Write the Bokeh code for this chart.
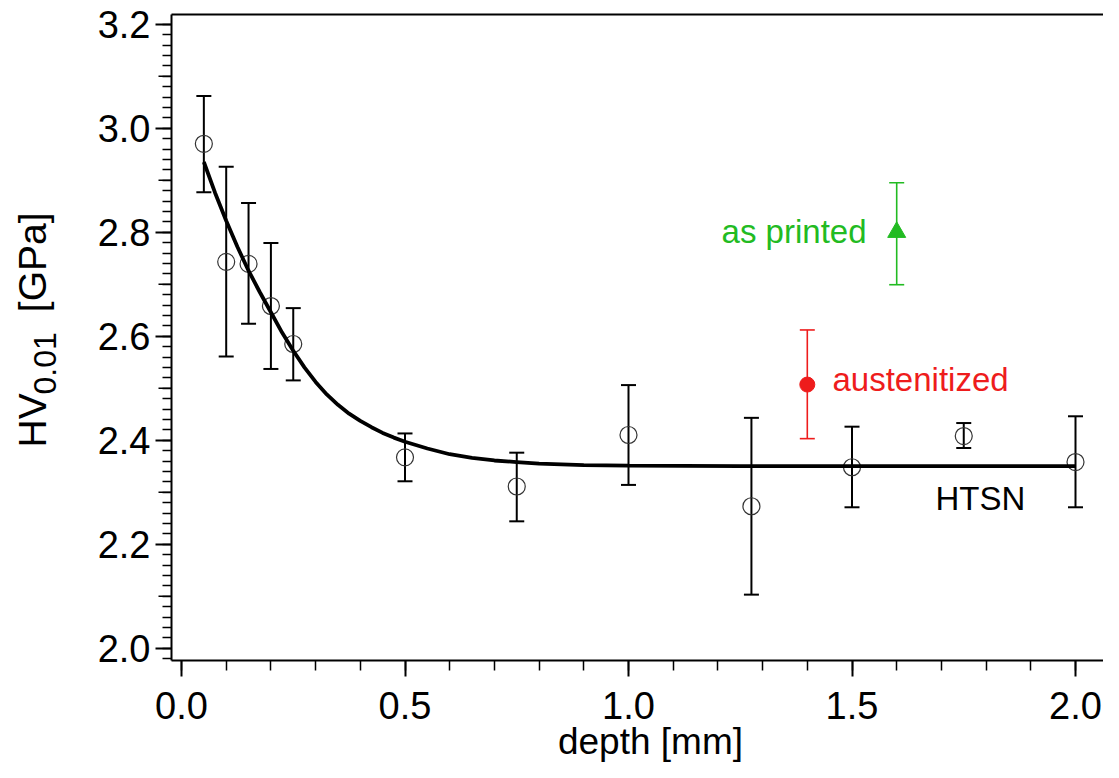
import math
from bokeh.plotting import figure
from bokeh.models import (Range1d, Whisker, ColumnDataSource, TeeHead, Label,
                          LinearAxis, FixedTicker, SingleIntervalTicker,
                          PrintfTickFormatter)
from bokeh.embed import file_html
from bokeh.resources import INLINE

# ---------------- data ----------------
depth = [0.05, 0.10, 0.15, 0.20, 0.25, 0.50, 0.75, 1.00, 1.275, 1.50, 1.75, 2.00]
hv = [2.970, 2.743, 2.739, 2.658, 2.585, 2.367, 2.311, 2.410, 2.273, 2.348, 2.408, 2.358]
hv_upper = [3.062, 2.926, 2.856, 2.779, 2.654, 2.413, 2.376, 2.506, 2.443, 2.426, 2.433, 2.446]
hv_lower = [2.877, 2.561, 2.624, 2.537, 2.515, 2.321, 2.244, 2.314, 2.103, 2.271, 2.385, 2.271]

fit_depth = [0.05, 0.075, 0.10, 0.125, 0.15, 0.175, 0.20, 0.225, 0.25, 0.275, 0.30,
             0.325, 0.35, 0.375, 0.40, 0.425, 0.45, 0.475, 0.50, 0.55, 0.60, 0.65,
             0.70, 0.75, 0.80, 0.90, 1.00, 1.25, 1.50, 1.75, 2.00]
fit_hv = [2.935, 2.876, 2.822, 2.772, 2.726, 2.685, 2.646, 2.607, 2.572, 2.540, 2.512,
          2.488, 2.468, 2.451, 2.437, 2.425, 2.414, 2.405, 2.397, 2.384, 2.373, 2.366,
          2.361, 2.358, 2.355, 2.352, 2.351, 2.350, 2.350, 2.350, 2.350]

printed_depth = [1.60]
printed_hv = [2.800]
printed_upper = [2.895]
printed_lower = [2.699]

aust_depth = [1.40]
aust_hv = [2.507]
aust_upper = [2.612]
aust_lower = [2.403]

y_mid_ticks = [2.1, 2.3, 2.5, 2.7, 2.9, 3.1]

GREEN = "#22bb22"
RED = "#ee1c1c"
FONT = "Liberation Sans"

# ---------------- geometry (pixel <-> data mapping of the frame) ----------------
W, H = 1103, 762
X0_PX, X_PER = 181.0, 447.0      # pixel of depth 0, pixels per mm
Y3_PX, Y_PER = 127.7, 520.0      # pixel of 3.0 GPa, pixels per GPa


def dx(px):
    return (px - X0_PX) / X_PER


def dy(py):
    return 3.0 - (py - Y3_PX) / Y_PER


x_lo, x_hi = dx(0), dx(W)
y_lo, y_hi = dy(H), dy(0)
ax_left, ax_bottom, ax_top = dx(171), dy(660), dy(14)

p = figure(width=W, height=H, output_backend="svg", toolbar_location=None,
           x_range=Range1d(x_lo, x_hi), y_range=Range1d(y_lo, y_hi),
           min_border=0)
p.min_border_left = 0
p.min_border_right = 0
p.min_border_top = 0
p.min_border_bottom = 0
p.xgrid.visible = False
p.ygrid.visible = False
p.outline_line_color = None
p.background_fill_color = "white"
p.border_fill_color = "white"

# x axis
xa = p.xaxis[0]
xa.fixed_location = ax_bottom
xa.bounds = (ax_left, x_hi)
xa.ticker = SingleIntervalTicker(interval=0.5, num_minor_ticks=5)
xa.formatter = PrintfTickFormatter(format="%.1f")
xa.axis_line_width = 2
xa.major_tick_line_width = 2
xa.minor_tick_line_width = 1.5
xa.major_tick_in = 0
xa.major_tick_out = 16
xa.minor_tick_in = 0
xa.minor_tick_out = 10
xa.major_label_standoff = 15
xa.major_label_text_font = FONT
xa.major_label_text_font_size = "38px"
xa.major_label_text_color = "black"

# y axis
ya = p.yaxis[0]
ya.fixed_location = ax_left
ya.bounds = (ax_bottom, ax_top)
ya.ticker = SingleIntervalTicker(interval=0.2, num_minor_ticks=10)
ya.formatter = PrintfTickFormatter(format="%.1f")
ya.axis_line_width = 2
ya.major_tick_line_width = 2
ya.minor_tick_line_width = 1.5
ya.major_tick_in = 0
ya.major_tick_out = 16
ya.minor_tick_in = 0
ya.minor_tick_out = 9
ya.major_label_standoff = 5
ya.major_label_text_font = FONT
ya.major_label_text_font_size = "38px"
ya.major_label_text_color = "black"

# medium ticks at the odd tenths of the y axis (pointing outward, 13 px)
p.ray(x=[ax_left] * len(y_mid_ticks), y=y_mid_ticks, length=13,
      length_units="screen", angle=math.pi, line_color="black", line_width=1.5)

# top border line
top = LinearAxis(fixed_location=ax_top, bounds=(ax_left, x_hi),
                 ticker=FixedTicker(ticks=[]), major_label_text_font_size="0px",
                 major_tick_out=0, major_tick_in=0, minor_tick_out=0, minor_tick_in=0,
                 major_label_standoff=0, axis_line_width=2)
p.add_layout(top, "above")

# ---------------- series ----------------
src = ColumnDataSource(dict(x=depth, y=hv, upper=hv_upper, lower=hv_lower))
p.add_layout(Whisker(source=src, base="x", upper="upper", lower="lower",
                     line_color="black", line_width=2,
                     upper_head=TeeHead(size=15, line_color="black", line_width=2),
                     lower_head=TeeHead(size=15, line_color="black", line_width=2)))
p.scatter("x", "y", source=src, marker="circle", size=17, fill_color=None,
          line_color="#333333", line_width=1.2)

p.line(fit_depth, fit_hv, line_color="black", line_width=3.8)

psrc = ColumnDataSource(dict(x=printed_depth, y=printed_hv, upper=printed_upper,
                             lower=printed_lower))
p.add_layout(Whisker(source=psrc, base="x", upper="upper", lower="lower",
                     line_color=GREEN, line_width=1.6,
                     upper_head=TeeHead(size=15, line_color=GREEN, line_width=1.6),
                     lower_head=TeeHead(size=15, line_color=GREEN, line_width=1.6)))
p.scatter("x", "y", source=psrc, marker="triangle", size=18, fill_color=GREEN,
          line_color=GREEN)

asrc = ColumnDataSource(dict(x=aust_depth, y=aust_hv, upper=aust_upper,
                             lower=aust_lower))
p.add_layout(Whisker(source=asrc, base="x", upper="upper", lower="lower",
                     line_color=RED, line_width=1.6,
                     upper_head=TeeHead(size=15, line_color=RED, line_width=1.6),
                     lower_head=TeeHead(size=15, line_color=RED, line_width=1.6)))
p.scatter("x", "y", source=asrc, marker="circle", size=15, fill_color=RED,
          line_color=RED)

# ---------------- annotations ----------------
p.add_layout(Label(x=dx(866), y=dy(231), text="as printed", text_align="right",
                   text_baseline="alphabetic", text_font=FONT,
                   text_font_size="33px", text_color=GREEN))
p.add_layout(Label(x=dx(832), y=dy(379), text="austenitized", text_align="left",
                   text_baseline="alphabetic", text_font=FONT,
                   text_font_size="33px", text_color=RED))
p.add_layout(Label(x=dx(935), y=dy(498), text="HTSN", text_align="left",
                   text_baseline="alphabetic", text_font=FONT,
                   text_font_size="33px", text_color="black"))

# x axis title
p.add_layout(Label(x=dx(650), y=dy(741), text="depth [mm]", text_align="center",
                   text_baseline="alphabetic", text_font=FONT,
                   text_font_size="37px", text_color="black"))

# y axis title: HV_{0.01} [GPa]
p.add_layout(Label(x=dx(32), y=dy(447), text="HV", angle=math.pi / 2,
                   text_align="left", text_baseline="alphabetic", text_font=FONT,
                   text_font_size="39px", text_color="black"))
p.add_layout(Label(x=dx(44), y=dy(394), text="0.01", angle=math.pi / 2,
                   text_align="left", text_baseline="alphabetic", text_font=FONT,
                   text_font_size="32px", text_color="black"))
p.add_layout(Label(x=dx(32), y=dy(212), text="[GPa]", angle=math.pi / 2,
                   text_align="right", text_baseline="alphabetic", text_font=FONT,
                   text_font_size="39px", text_color="black"))

open("out.html", "w").write(file_html(p, INLINE))
